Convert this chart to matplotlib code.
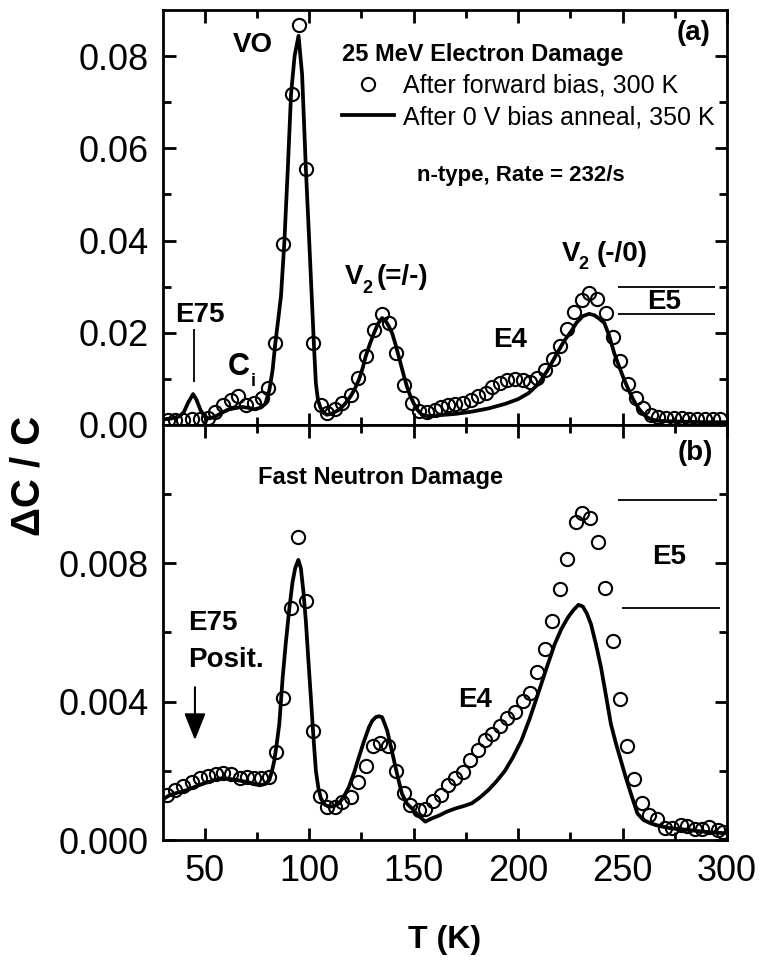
import numpy as np
import matplotlib
matplotlib.use('Agg')
import matplotlib.pyplot as plt
from matplotlib.ticker import FixedLocator, FormatStrFormatter

plt.rcParams['font.family'] = ['Liberation Sans', 'DejaVu Sans']

# (a) 25 MeV electron damage -- after forward bias, 300 K (circles)
t_a_fb = [32.4, 35.7, 39.5, 43.7, 47.6, 51.4, 54.8, 58.6, 62.4, 65.9, 69.8, 73.8,
          77.5, 80.5, 83.8, 87.6, 91.6, 95.2, 98.7, 101.9, 105.6, 108.7, 112.4,
          115.9, 119.8, 123.5, 127.3, 131.0, 134.9, 138.1, 141.6, 145.2, 149.2,
          152.7, 156.3, 160.0, 163.0, 166.5, 170.0, 173.4, 177.5, 181.0, 184.4,
          187.6, 191.3, 194.9, 198.4, 202.4, 205.6, 209.2, 212.7, 216.7, 219.9,
          223.5, 227.0, 230.5, 234.1, 237.8, 242.0, 245.2, 248.9, 252.7, 256.3,
          260.0, 263.5, 267.2, 270.9, 274.6, 278.3, 282.0, 285.7, 289.4, 293.1, 296.8]
dc_a_fb = [0.0010, 0.0011, 0.0011, 0.0013, 0.0013, 0.0015, 0.0029, 0.0043, 0.0054,
           0.0062, 0.0043, 0.0047, 0.0058, 0.0080, 0.0178, 0.0393, 0.0717, 0.0867,
           0.0556, 0.0178, 0.0043, 0.0027, 0.0035, 0.0047, 0.0065, 0.0101, 0.0150,
           0.0207, 0.0241, 0.0221, 0.0156, 0.0087, 0.0047, 0.0031, 0.0029, 0.0033,
           0.0039, 0.0043, 0.0046, 0.0048, 0.0054, 0.0062, 0.0070, 0.0082, 0.0091,
           0.0098, 0.0099, 0.0098, 0.0094, 0.0101, 0.0120, 0.0143, 0.0172, 0.0208,
           0.0244, 0.0272, 0.0286, 0.0274, 0.0242, 0.0191, 0.0138, 0.0089, 0.0058,
           0.0036, 0.0022, 0.0017, 0.0015, 0.0014, 0.0014, 0.0013, 0.0013, 0.0013,
           0.0012, 0.0012]

# (a) after 0 V bias anneal, 350 K (line)
t_a_an = [30, 34, 38, 40, 42, 44.4, 46, 48, 50, 52, 55, 58, 61, 65, 68, 71, 74, 77,
          79, 80.9, 82.5, 83.8, 85.2, 86.5, 88.1, 89.8, 91.3, 93.0, 94.9, 96.6, 98.4,
          100, 101.3, 102.3, 103.2, 104.2, 105.5, 107, 108.5, 111, 114.3, 117, 119.8,
          121.8, 123.8, 125.5, 127, 129, 131, 133, 134.9, 136.5, 138, 139.7, 141.3,
          142.9, 145, 146.8, 148.5, 150, 152, 154, 157, 162, 170, 178, 186, 194, 200,
          205, 210, 214.3, 218, 222, 225.4, 228, 231, 234, 236.5, 239, 241.3, 243.5,
          246, 248.5, 250.8, 253, 255.6, 258, 260.3, 262, 264, 267, 272, 280, 290, 300]
dc_a_an = [0.0012, 0.0014, 0.0019, 0.0028, 0.0048, 0.0067, 0.0055, 0.0032, 0.0018,
           0.0014, 0.0018, 0.0026, 0.0033, 0.0037, 0.0039, 0.0037, 0.0034, 0.0038,
           0.0046, 0.0075, 0.0120, 0.0178, 0.0230, 0.0280, 0.0396, 0.0560, 0.0717,
           0.0800, 0.0844, 0.0760, 0.0556, 0.0400, 0.0270, 0.0170, 0.0090, 0.0054,
           0.0036, 0.0026, 0.0022, 0.0025, 0.0033, 0.0045, 0.0062, 0.0078, 0.0098,
           0.0122, 0.0148, 0.0175, 0.0199, 0.0220, 0.0232, 0.0226, 0.0215, 0.0199,
           0.0175, 0.0148, 0.0112, 0.0083, 0.0062, 0.0047, 0.0032, 0.0022, 0.0019,
           0.0021, 0.0024, 0.0029, 0.0036, 0.0046, 0.0056, 0.0069, 0.0090, 0.0120,
           0.0150, 0.0182, 0.0203, 0.0222, 0.0236, 0.0241, 0.0238, 0.0230, 0.0221,
           0.0195, 0.0156, 0.0125, 0.0098, 0.0075, 0.0051, 0.0034, 0.0022, 0.0016,
           0.0012, 0.0009, 0.0008, 0.0007, 0.0006, 0.0006]

# (b) fast neutron damage -- circles
t_b_fb = [31.7, 35.7, 39.7, 43.7, 47.6, 51.6, 55.2, 58.7, 62.7, 66.7, 70.2, 73.8,
          77.0, 80.9, 84.1, 87.6, 91.3, 94.8, 98.4, 101.6, 105.1, 108.7, 112.4,
          115.9, 119.9, 123.5, 127.3, 130.5, 134.1, 137.8, 141.6, 145.2, 148.4,
          152.4, 155.6, 159.5, 163.2, 166.4, 169.9, 173.5, 177.0, 180.6, 184.1,
          187.6, 191.3, 194.9, 198.7, 202.4, 205.6, 209.2, 212.7, 216.3, 220.1,
          223.5, 227.5, 230.6, 234.6, 238.1, 241.8, 245.2, 248.9, 252.0, 255.6,
          259.5, 262.7, 266.7, 270.1, 273.8, 277.8, 281.0, 284.5, 288.0, 291.3,
          295.5, 298.0]
dc_b_fb = [0.00130, 0.00144, 0.00155, 0.00168, 0.00178, 0.00185, 0.00192, 0.00194,
           0.00192, 0.00180, 0.00182, 0.00178, 0.00180, 0.00182, 0.00254, 0.00410,
           0.00670, 0.00875, 0.00690, 0.00316, 0.00127, 0.00096, 0.00096, 0.00110,
           0.00125, 0.00168, 0.00213, 0.00273, 0.00280, 0.00273, 0.00200, 0.00136,
           0.00100, 0.00086, 0.00091, 0.00113, 0.00130, 0.00158, 0.00178, 0.00197,
           0.00232, 0.00261, 0.00290, 0.00307, 0.00331, 0.00352, 0.00369, 0.00403,
           0.00424, 0.00487, 0.00552, 0.00633, 0.00726, 0.00812, 0.00918, 0.00945,
           0.00930, 0.00863, 0.00729, 0.00574, 0.00408, 0.00273, 0.00175, 0.00106,
           0.00072, 0.00060, 0.00034, 0.00034, 0.00043, 0.00040, 0.00032, 0.00032,
           0.00038, 0.00030, 0.00022]

# (b) line
t_b_an = [30, 33.3, 37, 41.3, 45, 49.2, 53, 57.1, 60, 63.5, 66.5, 69.9, 73, 76.2, 79,
          80.9, 82.2, 83.3, 84.5, 85.7, 87.3, 88.8, 90.5, 92, 93.3, 94.8, 96, 97.2,
          98.4, 99.6, 100.8, 102, 103.2, 104.4, 105.6, 107.5, 109.5, 112, 114.3,
          116.5, 119, 121.5, 123.8, 126.2, 128.6, 130.2, 131.8, 133.3, 134.9, 136.2,
          137.3, 139.3, 141.3, 142.9, 144.4, 146.8, 149.2, 152.4, 155.6, 158.5, 161.9,
          165.9, 169.9, 173.9, 177.8, 181.7, 185.7, 189.7, 193.7, 197.6, 201.6, 205.5,
          209.5, 213.5, 217.5, 220.7, 223.8, 226.5, 228.9, 231, 232.9, 234.9, 237.3,
          239.7, 242, 244.4, 246.8, 249.2, 251.6, 254, 257.1, 260, 263.5, 268, 273,
          280, 288.9, 298, 300]
dc_b_an = [0.00118, 0.00130, 0.00137, 0.00144, 0.00153, 0.00163, 0.00170, 0.00178,
           0.00178, 0.00175, 0.00172, 0.00168, 0.00163, 0.00158, 0.00162, 0.00173,
           0.00200, 0.00230, 0.00280, 0.00336, 0.00470, 0.00570, 0.00670, 0.00745,
           0.00786, 0.00810, 0.00786, 0.00720, 0.00633, 0.00520, 0.00412, 0.00300,
           0.00200, 0.00150, 0.00120, 0.00102, 0.00096, 0.00098, 0.00106, 0.00125,
           0.00153, 0.00195, 0.00240, 0.00285, 0.00326, 0.00345, 0.00355, 0.00358,
           0.00355, 0.00335, 0.00317, 0.00265, 0.00211, 0.00170, 0.00134, 0.00105,
           0.00091, 0.00070, 0.00053, 0.00062, 0.00070, 0.00082, 0.00091, 0.00098,
           0.00106, 0.00123, 0.00144, 0.00170, 0.00200, 0.00240, 0.00288, 0.00350,
           0.00422, 0.00495, 0.00566, 0.00610, 0.00643, 0.00665, 0.00680, 0.00675,
           0.00655, 0.00624, 0.00565, 0.00499, 0.00420, 0.00336, 0.00280, 0.00230,
           0.00180, 0.00134, 0.00077, 0.00058, 0.00048, 0.00040, 0.00034, 0.00030,
           0.00024, 0.00020, 0.00020]

x_major = [50, 100, 150, 200, 250, 300]
x_minor = [75, 125, 175, 225, 275]
ya_major = [0.0, 0.02, 0.04, 0.06, 0.08]
ya_minor = [0.01, 0.03, 0.05, 0.07]
yb_major = [0.0, 0.004, 0.008]
yb_minor = [0.002, 0.006, 0.010]


def style(ax):
    for s in ax.spines.values():
        s.set_linewidth(2)
    ax.tick_params(which='both', direction='in', top=True, right=True,
                   width=2, labelsize=26, pad=10)
    ax.tick_params(which='major', length=9)
    ax.tick_params(which='minor', length=6)
    ax.xaxis.set_major_locator(FixedLocator(x_major))
    ax.xaxis.set_minor_locator(FixedLocator(x_minor))


def series(ax, t_c, v_c, t_l, v_l):
    circ, = ax.plot(t_c, v_c, 'o', mfc='none', mec='k', ms=9.5, mew=1.5)
    line, = ax.plot(t_l, v_l, '-', color='k', lw=2.7)
    return circ, line


fig = plt.figure(figsize=(7.63, 9.61), dpi=100)
ax1 = fig.add_axes([0.2136, 0.5578, 0.7392, 0.4318])
ax2 = fig.add_axes([0.2136, 0.1259, 0.7392, 0.4319], sharex=ax1)

circ, line = series(ax1, t_a_fb, dc_a_fb, t_a_an, dc_a_an)
series(ax2, t_b_fb, dc_b_fb, t_b_an, dc_b_an)

for ax in (ax1, ax2):
    style(ax)
ax1.set_xlim(30, 300)
ax1.set_ylim(0, 0.09)
ax1.yaxis.set_major_locator(FixedLocator(ya_major))
ax1.yaxis.set_minor_locator(FixedLocator(ya_minor))
ax1.yaxis.set_major_formatter(FormatStrFormatter('%.2f'))
ax1.tick_params(labelbottom=False)
ax2.set_ylim(0, 0.012)
ax2.yaxis.set_major_locator(FixedLocator(yb_major))
ax2.yaxis.set_minor_locator(FixedLocator(yb_minor))
ax2.yaxis.set_major_formatter(FormatStrFormatter('%.3f'))

leg = ax1.legend([circ, line],
                 ['After forward bias, 300 K', 'After 0 V bias anneal, 350 K'],
                 loc='upper left', bbox_to_anchor=(0.317, 0.92), frameon=False,
                 fontsize=18, title='25 MeV Electron Damage',
                 title_fontproperties={'weight': 'bold', 'size': 17},
                 alignment='left', handlelength=2.1, handletextpad=0.33,
                 borderpad=0, borderaxespad=0, labelspacing=0.3)

bold = dict(fontweight='bold', ha='left', va='center')
# panel (a) labels
ax1.text(63.5, 0.0824, 'VO', fontsize=20, **bold)
ax1.text(151.6, 0.0542, 'n-type, Rate = 232/s', fontsize=16, **bold)
ax1.text(276.1, 0.0850, '(a)', fontsize=20, **bold)
ax1.text(35.7, 0.0239, 'E75', fontsize=20, **bold)
ax1.vlines(44.8, 0.0093, 0.0208, color='k', lw=1.3)
ax1.text(61.1, 0.0126, 'C', fontsize=22, **bold)
ax1.text(72.0, 0.0094, 'i', fontsize=13, **bold)
ax1.text(117.1, 0.0321, 'V', fontsize=20, **bold)
ax1.text(125.6, 0.0295, '2', fontsize=13, **bold)
ax1.text(132.4, 0.0321, '(=/-)', fontsize=20, **bold)
ax1.text(221.0, 0.0371, 'V', fontsize=20, **bold)
ax1.text(229.0, 0.0347, '2', fontsize=13, **bold)
ax1.text(237.8, 0.0371, '(-/0)', fontsize=20, **bold)
ax1.text(188.0, 0.0184, 'E4', fontsize=20, **bold)
ax1.text(261.7, 0.0267, 'E5', fontsize=20, **bold)
ax1.hlines([0.0299, 0.0241], 247.8, 294.2, color='k', lw=1.3)

# panel (b) labels
ax2.text(75.5, 0.01047, 'Fast Neutron Damage', fontsize=17, **bold)
ax2.text(276.5, 0.01119, '(b)', fontsize=20, **bold)
ax2.text(42.0, 0.00627, 'E75', fontsize=20, **bold)
ax2.text(42.0, 0.00520, 'Posit.', fontsize=20, **bold)
ax2.annotate('', xy=(45.3, 0.00289), xytext=(45.3, 0.00442),
             arrowprops=dict(arrowstyle='-|>,head_length=0.55,head_width=0.22',
                             color='k', lw=1.5, mutation_scale=30,
                             shrinkA=0, shrinkB=0))
ax2.text(171.2, 0.00405, 'E4', fontsize=20, **bold)
ax2.text(264.1, 0.00818, 'E5', fontsize=20, **bold)
ax2.hlines(0.00983, 247.8, 295.2, color='k', lw=1.3)
ax2.hlines(0.00671, 249.7, 296.6, color='k', lw=1.3)

fig.text(0.0367, 0.505, '\u0394C / C', rotation=90, fontsize=29,
         fontweight='bold', ha='center', va='center')
fig.text(0.583, 0.022, 'T (K)', fontsize=23, fontweight='bold',
         ha='center', va='center')

fig.savefig('out.png', dpi=100)
